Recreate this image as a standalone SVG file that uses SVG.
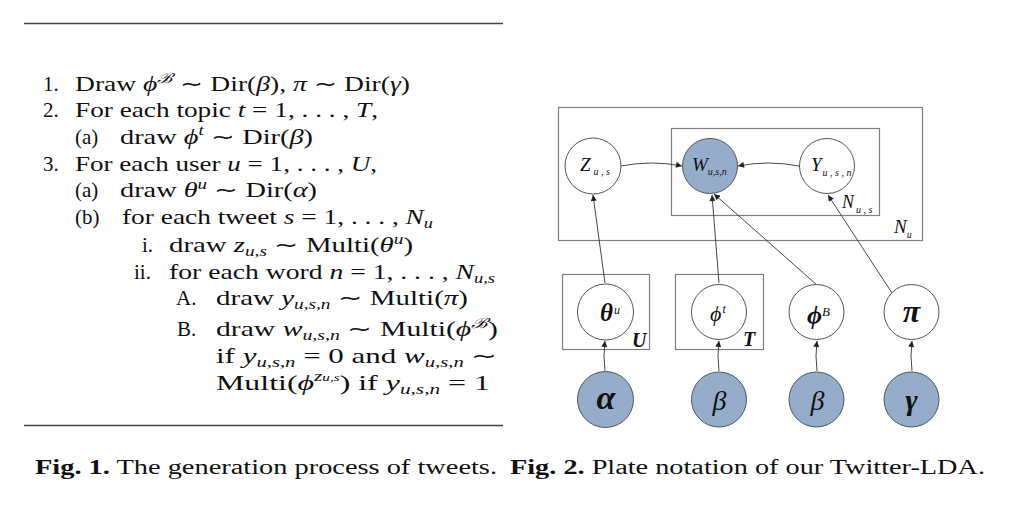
<svg xmlns="http://www.w3.org/2000/svg" width="1024" height="512" viewBox="0 0 1024 512">
<defs>
<marker id="arr" viewBox="0 0 10 10" refX="10" refY="5" markerWidth="7" markerHeight="6" markerUnits="userSpaceOnUse" orient="auto">
<path d="M0,0 L10,5 L0,10 z" fill="#222"/>
</marker>
<style>
.t{font-family:"Liberation Serif","Times New Roman",serif;font-size:21px;fill:#111}
.i{font-style:italic}
.s{font-size:14px}
.cap{font-family:"Liberation Serif","Times New Roman",serif;font-size:20px;fill:#111}
.b{font-weight:bold}
.rule{stroke:#444;stroke-width:1.3}
.plate{fill:none;stroke:#808080;stroke-width:1.2}
.node{fill:#fff;stroke:#555;stroke-width:1}
.obs{fill:#95adca;stroke:#555;stroke-width:1}
.lab{font-family:"Liberation Serif","Times New Roman",serif;font-style:italic;fill:#111}
.edge{fill:none;stroke:#333;stroke-width:0.9;marker-end:url(#arr)}
</style>
</defs>
<rect width="1024" height="512" fill="#fff"/>

<g id="algorithm">
<line class="rule" x1="24" y1="23.5" x2="503" y2="23.5"/>
<line class="rule" x1="24" y1="425.5" x2="503" y2="425.5"/>
<text class="t" x="43" y="91">1.</text>
<text class="t" x="75" y="91" textLength="335" lengthAdjust="spacingAndGlyphs">Draw <tspan class="i">ϕ</tspan><tspan class="s i" dy="-8">ℬ</tspan><tspan dy="8"> ∼ Dir(</tspan><tspan class="i">β</tspan>), <tspan class="i">π</tspan> ∼ Dir(<tspan class="i">γ</tspan>)</text>
<text class="t" x="43" y="117">2.</text>
<text class="t" x="75" y="117" textLength="303" lengthAdjust="spacingAndGlyphs">For each topic <tspan class="i">t</tspan> = 1, . . . , <tspan class="i">T</tspan>,</text>
<text class="t" x="75" y="144">(a)</text>
<text class="t" x="120" y="144" textLength="193" lengthAdjust="spacingAndGlyphs">draw <tspan class="i">ϕ</tspan><tspan class="s i" dy="-9">t</tspan><tspan dy="9"> ∼ Dir(</tspan><tspan class="i">β</tspan>)</text>
<text class="t" x="43" y="171">3.</text>
<text class="t" x="75" y="171" textLength="302" lengthAdjust="spacingAndGlyphs">For each user <tspan class="i">u</tspan> = 1, . . . , <tspan class="i">U</tspan>,</text>
<text class="t" x="75" y="197">(a)</text>
<text class="t" x="120" y="197" textLength="197" lengthAdjust="spacingAndGlyphs">draw <tspan class="i">θ</tspan><tspan class="s i" dy="-8">u</tspan><tspan dy="8"> ∼ Dir(</tspan><tspan class="i">α</tspan>)</text>
<text class="t" x="75" y="224">(b)</text>
<text class="t" x="122" y="224" textLength="311" lengthAdjust="spacingAndGlyphs">for each tweet <tspan class="i">s</tspan> = 1, . . . , <tspan class="i">N</tspan><tspan class="s i" dy="4">u</tspan></text>
<text class="t" x="142" y="252">i.</text>
<text class="t" x="169" y="252" textLength="244" lengthAdjust="spacingAndGlyphs">draw <tspan class="i">z</tspan><tspan class="s i" dy="4">u,s</tspan><tspan dy="-4"> ∼ Multi(</tspan><tspan class="i">θ</tspan><tspan class="s i" dy="-8">u</tspan><tspan dy="8">)</tspan></text>
<text class="t" x="134" y="279">ii.</text>
<text class="t" x="169" y="279" textLength="326" lengthAdjust="spacingAndGlyphs">for each word <tspan class="i">n</tspan> = 1, . . . , <tspan class="i">N</tspan><tspan class="s i" dy="4">u,s</tspan></text>
<text class="t" x="176" y="305">A.</text>
<text class="t" x="216" y="305" textLength="252" lengthAdjust="spacingAndGlyphs">draw <tspan class="i">y</tspan><tspan class="s i" dy="4">u,s,n</tspan><tspan dy="-4"> ∼ Multi(</tspan><tspan class="i">π</tspan>)</text>
<text class="t" x="177" y="336">B.</text>
<text class="t" x="216" y="336" textLength="282" lengthAdjust="spacingAndGlyphs">draw <tspan class="i">w</tspan><tspan class="s i" dy="4">u,s,n</tspan><tspan dy="-4"> ∼ Multi(</tspan><tspan class="i">ϕ</tspan><tspan class="s i" dy="-8">ℬ</tspan><tspan dy="8">)</tspan></text>
<text class="t" x="216" y="363" textLength="282" lengthAdjust="spacingAndGlyphs">if <tspan class="i">y</tspan><tspan class="s i" dy="4">u,s,n</tspan><tspan dy="-4"> = 0 and </tspan><tspan class="i">w</tspan><tspan class="s i" dy="4">u,s,n</tspan><tspan dy="-4"> ∼</tspan></text>
<text class="t" x="216" y="390" textLength="274" lengthAdjust="spacingAndGlyphs">Multi(<tspan class="i">ϕ</tspan><tspan class="s i" dy="-9">z<tspan font-size="10px">u,s</tspan></tspan><tspan dy="9">) if </tspan><tspan class="i">y</tspan><tspan class="s i" dy="4">u,s,n</tspan><tspan dy="-4"> = 1</tspan></text>
</g>

<g id="captions">
<text class="cap" x="35" y="474" textLength="462" lengthAdjust="spacingAndGlyphs"><tspan class="b">Fig. 1.</tspan> The generation process of tweets.</text>
<text class="cap" x="510" y="474" textLength="475" lengthAdjust="spacingAndGlyphs"><tspan class="b">Fig. 2.</tspan> Plate notation of our Twitter-LDA.</text>
</g>

<g id="plates">
<g id="plate-Nu">
<rect class="plate" x="558.5" y="107.5" width="364" height="133"/>
<text class="lab" x="894" y="233" font-size="19">N<tspan font-size="10" dy="5">u</tspan></text>
</g>
<g id="plate-Nus">
<rect class="plate" x="671.5" y="128.5" width="208" height="87"/>
<text class="lab" x="842" y="208" font-size="18">N<tspan font-size="10" dy="5" dx="2">u , s</tspan></text>
</g>
<g id="plate-U">
<rect class="plate" x="562.5" y="274.5" width="87" height="75"/>
<text class="lab" x="632" y="347" font-size="20" font-weight="bold">U</text>
</g>
<g id="plate-T">
<rect class="plate" x="675.5" y="274.5" width="88" height="75"/>
<text class="lab" x="743" y="346" font-size="20" font-weight="bold">T</text>
</g>
</g>

<g id="connectors">
<path class="edge" d="M621,166 Q652,160 682,166"/>
<path class="edge" d="M799,166 Q768,160 738,166"/>
<path class="edge" d="M605,283 L593,195"/>
<path class="edge" d="M719,283 L712,195"/>
<path class="edge" d="M817,285 L714,194"/>
<path class="edge" d="M892,293 L828,195"/>
<path class="edge" d="M605,371 Q603,356 605,341"/>
<path class="edge" d="M719,371 Q717,356 719,341"/>
<path class="edge" d="M817,371 Q815,356 817,341"/>
<path class="edge" d="M912,371 Q910,356 912,341"/>
</g>

<g id="node-Z">
<circle class="node" cx="593" cy="166" r="28"/>
<text class="lab" x="580" y="171" font-size="19">Z<tspan font-size="10" dy="4" dx="3">u , s</tspan></text>
</g>
<g id="node-W">
<circle class="obs" cx="710" cy="166" r="27.5"/>
<text class="lab" x="692" y="171" font-size="19">W<tspan font-size="10" dy="4">u,s,n</tspan></text>
</g>
<g id="node-Y">
<circle class="node" cx="827" cy="166" r="27.5"/>
<text class="lab" x="811" y="171" font-size="19">Y<tspan font-size="10" dy="5" dx="1">u , s , n</tspan></text>
</g>
<g id="node-theta">
<circle class="node" cx="605.5" cy="312" r="28"/>
<text class="lab" x="600" y="321" font-size="25" font-weight="bold">θ<tspan font-size="12" dy="-7" dx="1" font-weight="normal">u</tspan></text>
</g>
<g id="node-phit">
<circle class="node" cx="719" cy="312" r="27.5"/>
<text class="lab" x="710" y="321" font-size="22">ϕ<tspan font-size="12" dy="-8" dx="1">t</tspan></text>
</g>
<g id="node-phiB">
<circle class="node" cx="816.5" cy="312" r="27.5"/>
<text class="lab" x="807" y="324" font-size="26" font-weight="bold">ϕ<tspan font-size="13" dy="-8" font-weight="normal">B</tspan></text>
</g>
<g id="node-pi">
<circle class="node" cx="911.5" cy="312" r="27.5"/>
<text class="lab" x="911.5" y="322" font-size="32" font-weight="bold" text-anchor="middle">π</text>
</g>
<g id="node-alpha">
<circle class="obs" cx="605.5" cy="399.5" r="28"/>
<text class="lab" x="606" y="409" font-size="34" font-weight="bold" text-anchor="middle">α</text>
</g>
<g id="node-beta1">
<circle class="obs" cx="719" cy="399.5" r="27.5"/>
<text class="lab" x="719.5" y="410" font-size="28" text-anchor="middle">β</text>
</g>
<g id="node-beta2">
<circle class="obs" cx="816.5" cy="399.5" r="27.5"/>
<text class="lab" x="817.5" y="410" font-size="28" text-anchor="middle">β</text>
</g>
<g id="node-gamma">
<circle class="obs" cx="911.5" cy="399.5" r="27.5"/>
<text class="lab" x="911.5" y="410" font-size="30" font-weight="bold" text-anchor="middle">γ</text>
</g>
</svg>
